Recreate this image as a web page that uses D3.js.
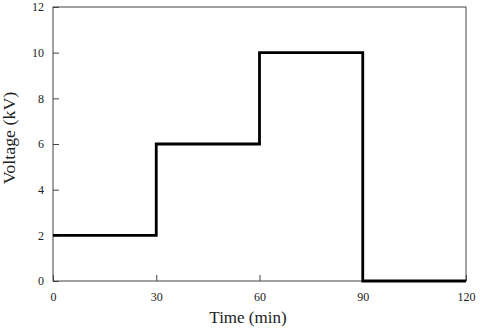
<!DOCTYPE html>
<html><head><meta charset="utf-8">
<script src="https://cdn.jsdelivr.net/npm/d3@7"></script>
<style>body{margin:0;background:#fff}svg{display:block}text{font-family:"Liberation Serif","Times New Roman",serif}</style>
</head><body>
<script>
const times = [0, 30, 60, 90, 120];
const voltages = [2, 6, 10, 0, 0];
const xTicks = [0, 30, 60, 90, 120];
const yTicks = [0, 2, 4, 6, 8, 10, 12];
const xTitle = "Time (min)";
const yTitle = "Voltage (kV)";

const W = 480, H = 328;
const m = {l: 53, r: 14, t: 7, b: 47};
const svg = d3.select("body").append("svg").attr("width", W).attr("height", H);
const x = d3.scaleLinear().domain([0, 120]).range([m.l, W - m.r]);
const y = d3.scaleLinear().domain([0, 12]).range([H - m.b, m.t]);

svg.append("rect").attr("x", x(0)).attr("y", y(12)).attr("width", x(120) - x(0)).attr("height", y(0) - y(12))
  .attr("fill", "none").attr("stroke", "#444").attr("stroke-width", 1);

const xAxis = svg.append("g").attr("transform", `translate(0,${y(0)})`)
  .call(d3.axisBottom(x).tickValues(xTicks).tickSize(-6).tickPadding(11).tickFormat(d3.format("d")));
const yAxis = svg.append("g").attr("transform", `translate(${x(0)},0)`)
  .call(d3.axisLeft(y).tickValues(yTicks).tickSize(-6).tickPadding(9).tickFormat(d3.format("d")));
[xAxis, yAxis].forEach(g => {
  g.attr("font-family", '"Liberation Serif",serif').attr("font-size", 12);
  g.select(".domain").remove();
  g.selectAll(".tick line").attr("stroke", "#444");
  g.selectAll(".tick text").attr("fill", "#222");
});

const line = d3.line().x((d, i) => x(times[i])).y(d => y(d)).curve(d3.curveStepAfter);
svg.append("path").datum(voltages).attr("d", line)
  .attr("fill", "none").attr("stroke", "#000").attr("stroke-width", 2.8);

svg.append("text").attr("x", 248).attr("y", 323).attr("text-anchor", "middle")
  .attr("font-size", 17).attr("fill", "#222").text(xTitle);
svg.append("text").attr("transform", `translate(15,138) rotate(-90) scale(1.12,1)`)
  .attr("text-anchor", "middle").attr("font-size", 16).attr("fill", "#222").text(yTitle);
</script>
</body></html>
